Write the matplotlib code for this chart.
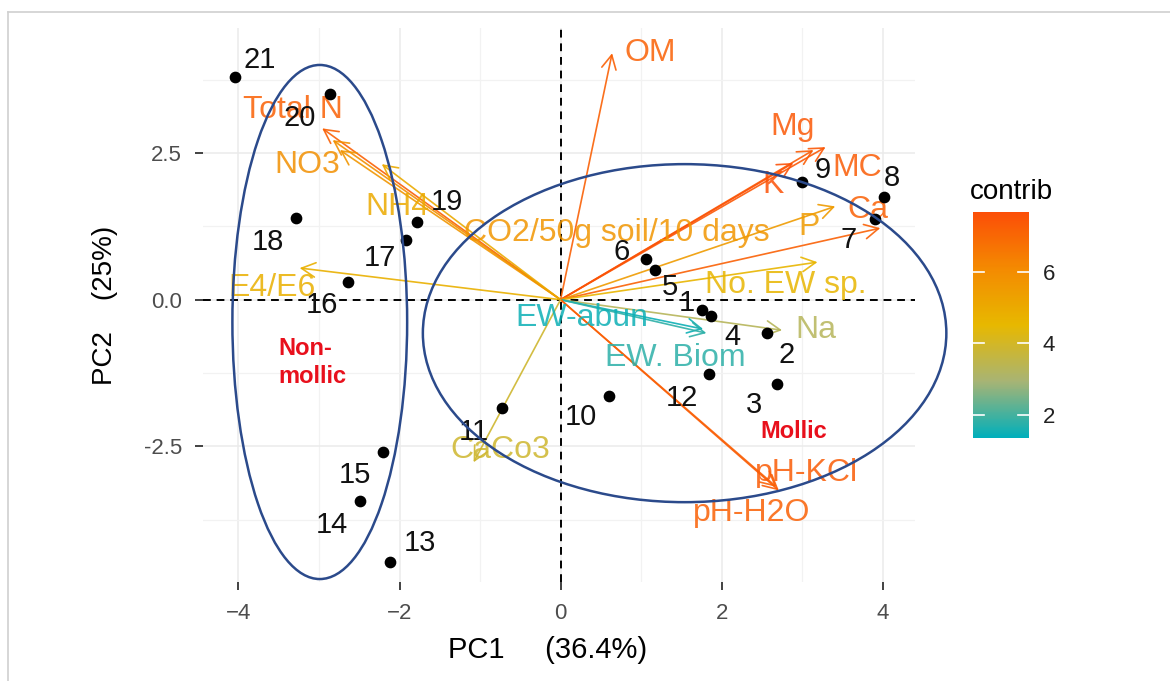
import matplotlib
matplotlib.use("Agg")
import matplotlib.pyplot as plt
from matplotlib.colors import LinearSegmentedColormap, Normalize
from matplotlib.cm import ScalarMappable
from matplotlib.patches import Ellipse
from matplotlib.lines import Line2D

plt.rcParams['font.family'] = ['Liberation Sans', 'DejaVu Sans']

# individuals (sites) on PC1 / PC2
ind_ids = [str(i) for i in range(1, 22)]
ind_pc1 = [1.76, 2.56, 2.69, 1.87, 1.17, 1.06, 3.91, 4.02, 3.00, 0.60, -0.73,
           1.84, -2.12, -2.49, -2.21, -2.64, -1.92, -3.29, -1.78, -2.86, -4.04]
ind_pc2 = [-0.18, -0.56, -1.44, -0.28, 0.51, 0.69, 1.38, 1.75, 2.01, -1.64, -1.84,
           -1.27, -4.47, -3.43, -2.59, 0.30, 1.01, 1.39, 1.32, 3.51, 3.79]
# repelled label positions of individuals
ind_lab_pc1 = [1.57, 2.81, 2.40, 2.13, 1.36, 0.76, 3.58, 4.11, 3.25, 0.25, -1.08,
               1.51, -1.75, -2.84, -2.55, -2.96, -2.24, -3.63, -1.41, -3.24, -3.73]
ind_lab_pc2 = [-0.06, -0.95, -1.80, -0.63, 0.22, 0.81, 1.01, 2.07, 2.21, -2.00, -2.25,
               -1.68, -4.15, -3.84, -2.99, -0.09, 0.71, 0.98, 1.66, 3.09, 4.08]

# variables
var_names = ["OM", "Total N", "NO3", "CO2/50g soil/10 days", "NH4", "E4/E6",
             "Mg", "MC", "K", "P", "Ca", "No. EW sp.", "Na", "EW-abun",
             "EW. Biom", "pH-KCl", "pH-H2O", "CaCo3"]
var_pc1 = [0.64, -2.96, -2.83, -2.74, -2.22, -3.24, 3.29, 3.14, 2.89, 3.41, 3.97,
           3.19, 2.75, 1.77, 1.81, 2.71, 2.68, -1.08]
var_pc2 = [4.20, 2.92, 2.72, 2.55, 2.31, 0.54, 2.60, 2.55, 2.33, 1.59, 1.22,
           0.64, -0.52, -0.50, -0.57, -3.25, -3.19, -2.77]
var_lab_pc1 = [1.11, -3.32, -3.15, 0.70, -2.03, -3.58, 2.88, 3.68, 2.64, 3.08, 3.82,
               2.79, 3.17, 0.27, 1.42, 3.06, 2.37, -0.75]
var_lab_pc2 = [4.20, 3.23, 2.29, 1.14, 1.58, 0.20, 2.94, 2.24, 1.95, 1.24, 1.53,
               0.25, -0.51, -0.32, -1.00, -2.96, -3.64, -2.56]
var_contrib = [7.2, 7.2, 5.9, 5.7, 5.0, 4.8, 7.4, 7.3, 7.6, 5.5, 7.2,
               4.6, 3.3, 1.5, 1.8, 7.3, 7.2, 3.9]

contrib_min, contrib_max = 1.36, 7.68

# teal -> gold -> orange-red, with Lab-like midpoints as ggplot's gradientn
cmap = LinearSegmentedColormap.from_list(
    "contrib", ["#00AFBB", "#A8B474", "#E7B800", "#F48A01", "#FC4E07"])
norm = Normalize(contrib_min, contrib_max)

fig = plt.figure(figsize=(11.7, 6.81), dpi=100)
ax = fig.add_axes([0.1735, 0.1454, 0.6085, 0.8135])

ax.set_xlim(-4.44, 4.40)
ax.set_ylim(-4.81, 4.63)
ax.set_xticks([-4, -2, 0, 2, 4])
ax.set_xticks([-3, -1, 1, 3], minor=True)
ax.set_yticks([-2.5, 0, 2.5])
ax.set_yticklabels(["-2.5", "0.0", "2.5"])
ax.set_yticks([-3.75, -1.25, 1.25, 3.75], minor=True)
ax.grid(True, which="major", color="#EBEBEB", lw=1.1)
ax.grid(True, which="minor", color="#F2F2F2", lw=0.9)
ax.set_axisbelow(True)
for s in ax.spines.values():
    s.set_visible(False)
ax.tick_params(which="major", length=6, width=1.3, color="#333333",
               labelsize=16, labelcolor="#4D4D4D", pad=9)
ax.tick_params(which="minor", length=0)

ax.axhline(0, color="black", lw=1.4, ls=(0, (4, 3)), zorder=1)
ax.axvline(0, color="black", lw=1.4, ls=(0, (4, 3)), zorder=1)

# variable arrows and labels
for name, x, y, lx, ly, c in zip(var_names, var_pc1, var_pc2, var_lab_pc1, var_lab_pc2, var_contrib):
    col = cmap(norm(c))
    ax.annotate("", xy=(x, y), xytext=(0, 0),
                arrowprops=dict(arrowstyle="->,head_length=0.5,head_width=0.26",
                                color=col, lw=1.2, alpha=0.9, mutation_scale=20,
                                shrinkA=0, shrinkB=0), zorder=2)
    ax.text(lx, ly, name, color=col, alpha=0.85, fontsize=23,
            ha="center", va="center", zorder=3)

# individuals
ax.scatter(ind_pc1, ind_pc2, s=55, color="black", zorder=4)
for lab, lx, ly in zip(ind_ids, ind_lab_pc1, ind_lab_pc2):
    ax.text(lx, ly, lab, color="#111111", fontsize=21, ha="center", va="center", zorder=5)

# group ellipses
ax.add_patch(Ellipse((-2.99, -0.38), 2.17, 8.76, fill=False, ec="#2B4A8B", lw=1.8,
                     clip_on=False, zorder=6))
ax.add_patch(Ellipse((1.54, -0.57), 6.50, 5.76, fill=False, ec="#2B4A8B", lw=1.8,
                     clip_on=False, zorder=6))
ax.text(-3.50, -1.07, "Non-\nmollic", color="#E8101C", fontsize=17, fontweight="bold",
        ha="left", va="center", multialignment="left", linespacing=1.3, zorder=6)
ax.text(2.89, -2.25, "Mollic", color="#E8101C", fontsize=17, fontweight="bold",
        ha="center", va="center", zorder=6)

# axis titles
fig.text(548 / 1170, 1 - 650 / 681, "PC1     (36.4%)", fontsize=21, ha="center", va="center")
fig.text(105 / 1170, 1 - 305 / 681, "PC2    (25%)", fontsize=20, rotation=90,
         ha="center", va="center")

# colour bar
cax = fig.add_axes([0.8314, 0.3568, 0.0481, 0.3323])
cb = fig.colorbar(ScalarMappable(norm=norm, cmap=cmap), cax=cax, ticks=[2, 4, 6])
cb.outline.set_visible(False)
cax.tick_params(length=0, labelsize=16, labelcolor="#222222", pad=10)
for v in [2, 4, 6]:
    cax.plot([0, 0.2], [v, v], color="white", lw=1.2)
    cax.plot([0.8, 1], [v, v], color="white", lw=1.2)
fig.text(970 / 1170, 1 - 192 / 681, "contrib", fontsize=20, ha="left", va="center")

# thin frame on top and left edges of the picture
fig.add_artist(Line2D([8 / 1170, 1], [1 - 12 / 681] * 2, color="#D0D0D0", lw=1.2))
fig.add_artist(Line2D([8 / 1170] * 2, [0, 1 - 12 / 681], color="#D0D0D0", lw=1.2))

fig.savefig("out.png", dpi=100)
